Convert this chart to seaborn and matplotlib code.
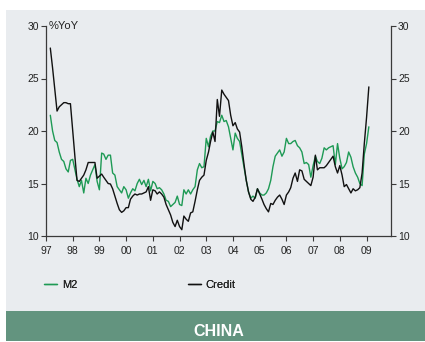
import matplotlib
matplotlib.use('Agg')
import matplotlib.pyplot as plt
from matplotlib.patches import Rectangle
from matplotlib import font_manager
from matplotlib.font_manager import FontProperties
import seaborn as sns
import pandas as pd

# ---- data (monthly, % YoY) ----
start_month = '1997-03-01'
credit = [
    27.9, 26.0, 24.0, 21.9, 22.3, 22.5, 22.7, 22.7, 22.6, 22.6,
    20.0, 17.5, 15.3, 15.2, 15.5, 15.8, 16.3, 17.0, 17.0, 17.0, 17.0, 15.5,
    15.7, 15.9, 15.6, 15.3, 15.0, 14.95, 14.5, 13.8, 13.1, 12.5, 12.25, 12.4,
    12.7, 12.7, 13.5, 13.8, 14.0, 13.9, 14.0, 14.0, 14.1, 14.2, 14.7, 13.4,
    14.4, 14.3, 14.0, 14.2, 14.0, 13.7, 13.0, 12.5, 12.0, 11.3, 10.9, 11.5,
    10.9, 10.6, 11.9, 11.6, 11.4, 12.2, 12.3, 13.3, 14.4, 15.3, 15.6, 15.8,
    17.2, 18.0, 19.0, 19.9, 19.0, 23.0, 21.4, 23.9, 23.5, 23.2, 22.9, 21.5,
    20.5, 20.8, 20.2, 19.9, 18.5, 16.8, 15.3, 14.2, 13.5, 13.3, 13.7, 14.5,
    14.0, 13.5, 13.0, 12.6, 12.3, 13.1, 13.0, 13.4, 13.7, 13.9, 13.5, 13.0,
    13.9, 14.2, 14.6, 15.5, 16.0, 15.2, 16.3, 16.2, 15.4, 15.2, 15.0, 14.8,
    15.6, 17.7, 16.3, 16.5, 16.5, 16.5, 16.7, 17.0, 17.3, 17.6, 16.6, 16.0,
    16.7, 15.8, 14.7, 14.9, 14.5, 14.1, 14.5, 14.3, 14.4, 14.6, 16.0, 18.8,
    21.3, 24.2,
]
m2 = [
    21.5, 20.0, 19.1, 18.9, 18.0, 17.3, 17.1, 16.4, 16.1, 17.2,
    17.3, 16.3, 15.4, 14.7, 15.3, 14.1, 15.5, 15.0, 15.8, 16.3, 16.8, 15.2,
    14.4, 17.9, 17.8, 17.3, 17.7, 17.7, 16.0, 15.8, 14.7, 14.4, 14.1, 14.7,
    14.4, 13.6, 14.1, 14.5, 14.3, 15.0, 15.4, 14.9, 15.3, 14.7, 15.4, 14.3,
    15.2, 15.0, 14.5, 14.6, 14.4, 14.0, 13.4, 13.3, 12.8, 13.0, 13.2, 13.8,
    13.0, 12.9, 14.4, 14.0, 14.4, 14.0, 14.4, 14.7, 16.3, 16.9, 16.5, 16.6,
    19.3, 18.5, 19.5, 20.0, 20.0, 20.9, 20.8, 21.5, 20.9, 21.0, 20.4, 19.3,
    18.2, 19.8, 19.3, 19.0, 17.8, 16.5, 15.3, 14.2, 13.6, 13.8, 13.6, 14.5,
    14.1, 13.9, 13.9, 14.1, 14.5, 15.3, 16.6, 17.6, 17.9, 18.2, 17.6, 18.0,
    19.3, 18.8, 18.8, 19.0, 19.1, 18.6, 18.4, 18.0, 16.9, 17.0, 16.8, 15.6,
    16.7, 17.6, 17.1, 16.9, 17.4, 18.4, 18.2, 18.4, 18.5, 18.6, 16.8, 18.8,
    17.4, 16.4, 16.6, 17.0, 18.0, 17.5, 16.6, 16.0, 15.6, 15.0, 14.8, 17.8,
    18.8, 20.4,
]
series_names = ['M2', 'Credit']
year_ticks = list(range(1997, 2010))
year_labels = ['97', '98', '99', '00', '01', '02', '03', '04', '05', '06', '07', '08', '09']
y_ticks = [10, 15, 20, 25, 30]
unit_label = '%YoY'
title = 'CHINA'

dates = pd.date_range(start_month, periods=len(credit), freq='MS')
df = pd.DataFrame({'date': dates, 'M2': m2, 'Credit': credit})

# ---- style ----
sns.set_theme(style='white')
ttf = font_manager.fontManager.ttflist
installed = {f.name for f in ttf}
narrow = 'Liberation Sans Narrow' if 'Liberation Sans Narrow' in installed else 'Liberation Sans'
plt.rcParams['font.family'] = [narrow, 'DejaVu Sans']


def has_bold(name):
    for f in ttf:
        w = f.weight
        if isinstance(w, str):
            w = {'bold': 700, 'heavy': 800, 'black': 900, 'semibold': 600,
                 'demibold': 600}.get(w.lower(), 400)
        if f.name == name and w >= 700 and f.style == 'normal':
            return True
    return False


bold_family = next((n for n in ['Liberation Sans', 'Arimo', 'Roboto', 'Open Sans',
                                'Lato', 'Inter', 'Noto Sans', 'DejaVu Sans']
                    if has_bold(n)), 'DejaVu Sans')

W, H = 425, 342
GREEN = '#1E9A55'
PANEL = '#E9ECEF'
BAND = '#63947F'
AXC = '#3a3a3a'

fig = plt.figure(figsize=(W / 100, H / 100), dpi=100, facecolor='white')
fig.patches.append(Rectangle((6 / W, 1 - 311 / H), 419 / W, 301 / H,
                             transform=fig.transFigure, facecolor=PANEL,
                             edgecolor='none', zorder=-10))
fig.patches.append(Rectangle((6 / W, 1 - 341 / H), 419 / W, 30 / H,
                             transform=fig.transFigure, facecolor=BAND,
                             edgecolor='none', zorder=-10))

ax = fig.add_axes([46 / W, 1 - 236 / H, 345 / W, 210 / H])
ax.set_zorder(1)
ax.patch.set_alpha(0)

sns.lineplot(data=df, x='date', y='M2', color=GREEN, lw=1.0, ax=ax, label='M2', legend=False)
sns.lineplot(data=df, x='date', y='Credit', color='#111111', lw=1.0, ax=ax, label='Credit', legend=False)

ax.set_xlim(pd.Timestamp('1997-01-01'), pd.Timestamp('2009-12-01'))
ax.set_ylim(10, 30)
ax.set_xticks([pd.Timestamp(f'{y}-01-01') for y in year_ticks])
ax.set_xticklabels(year_labels)
ax.set_yticks(y_ticks)
ax.set_yticklabels([str(v) for v in y_ticks])
ax.set_xlabel('')
ax.set_ylabel('')

for side in ['left', 'right', 'bottom']:
    ax.spines[side].set_visible(True)
    ax.spines[side].set_color(AXC)
    ax.spines[side].set_linewidth(0.9)
ax.spines['top'].set_visible(False)

ax.tick_params(axis='y', which='both', direction='out', length=3.5, width=0.8,
               color=AXC, labelsize=7.5, labelcolor='#222222', pad=1.5,
               left=True, right=True, labelleft=True, labelright=True)
ax.tick_params(axis='x', direction='out', length=3.5, width=0.8, color=AXC,
               labelsize=7.5, labelcolor='#222222', pad=4, bottom=True)

fig.text(49 / W, 1 - 26 / H, unit_label, ha='left', va='center', fontsize=8, color='#222222')

lines = ax.get_lines()
for line, name, x0 in zip(lines, series_names, [44, 188]):
    leg = fig.legend([line], [name], loc='center left',
                     bbox_to_anchor=(x0 / W, 1 - 285 / H), frameon=False,
                     fontsize=8, handlelength=1.15, handletextpad=0.45,
                     borderpad=0, borderaxespad=0, labelcolor='#222222')
    fig.add_artist(leg)

bold_fp = FontProperties(family=bold_family, weight='bold', size=11.5)
fig.text(219 / W, 1 - 336 / H, title, ha='center', va='baseline',
         fontproperties=bold_fp, color='white')

fig.savefig('out.png', dpi=100, facecolor='white')
